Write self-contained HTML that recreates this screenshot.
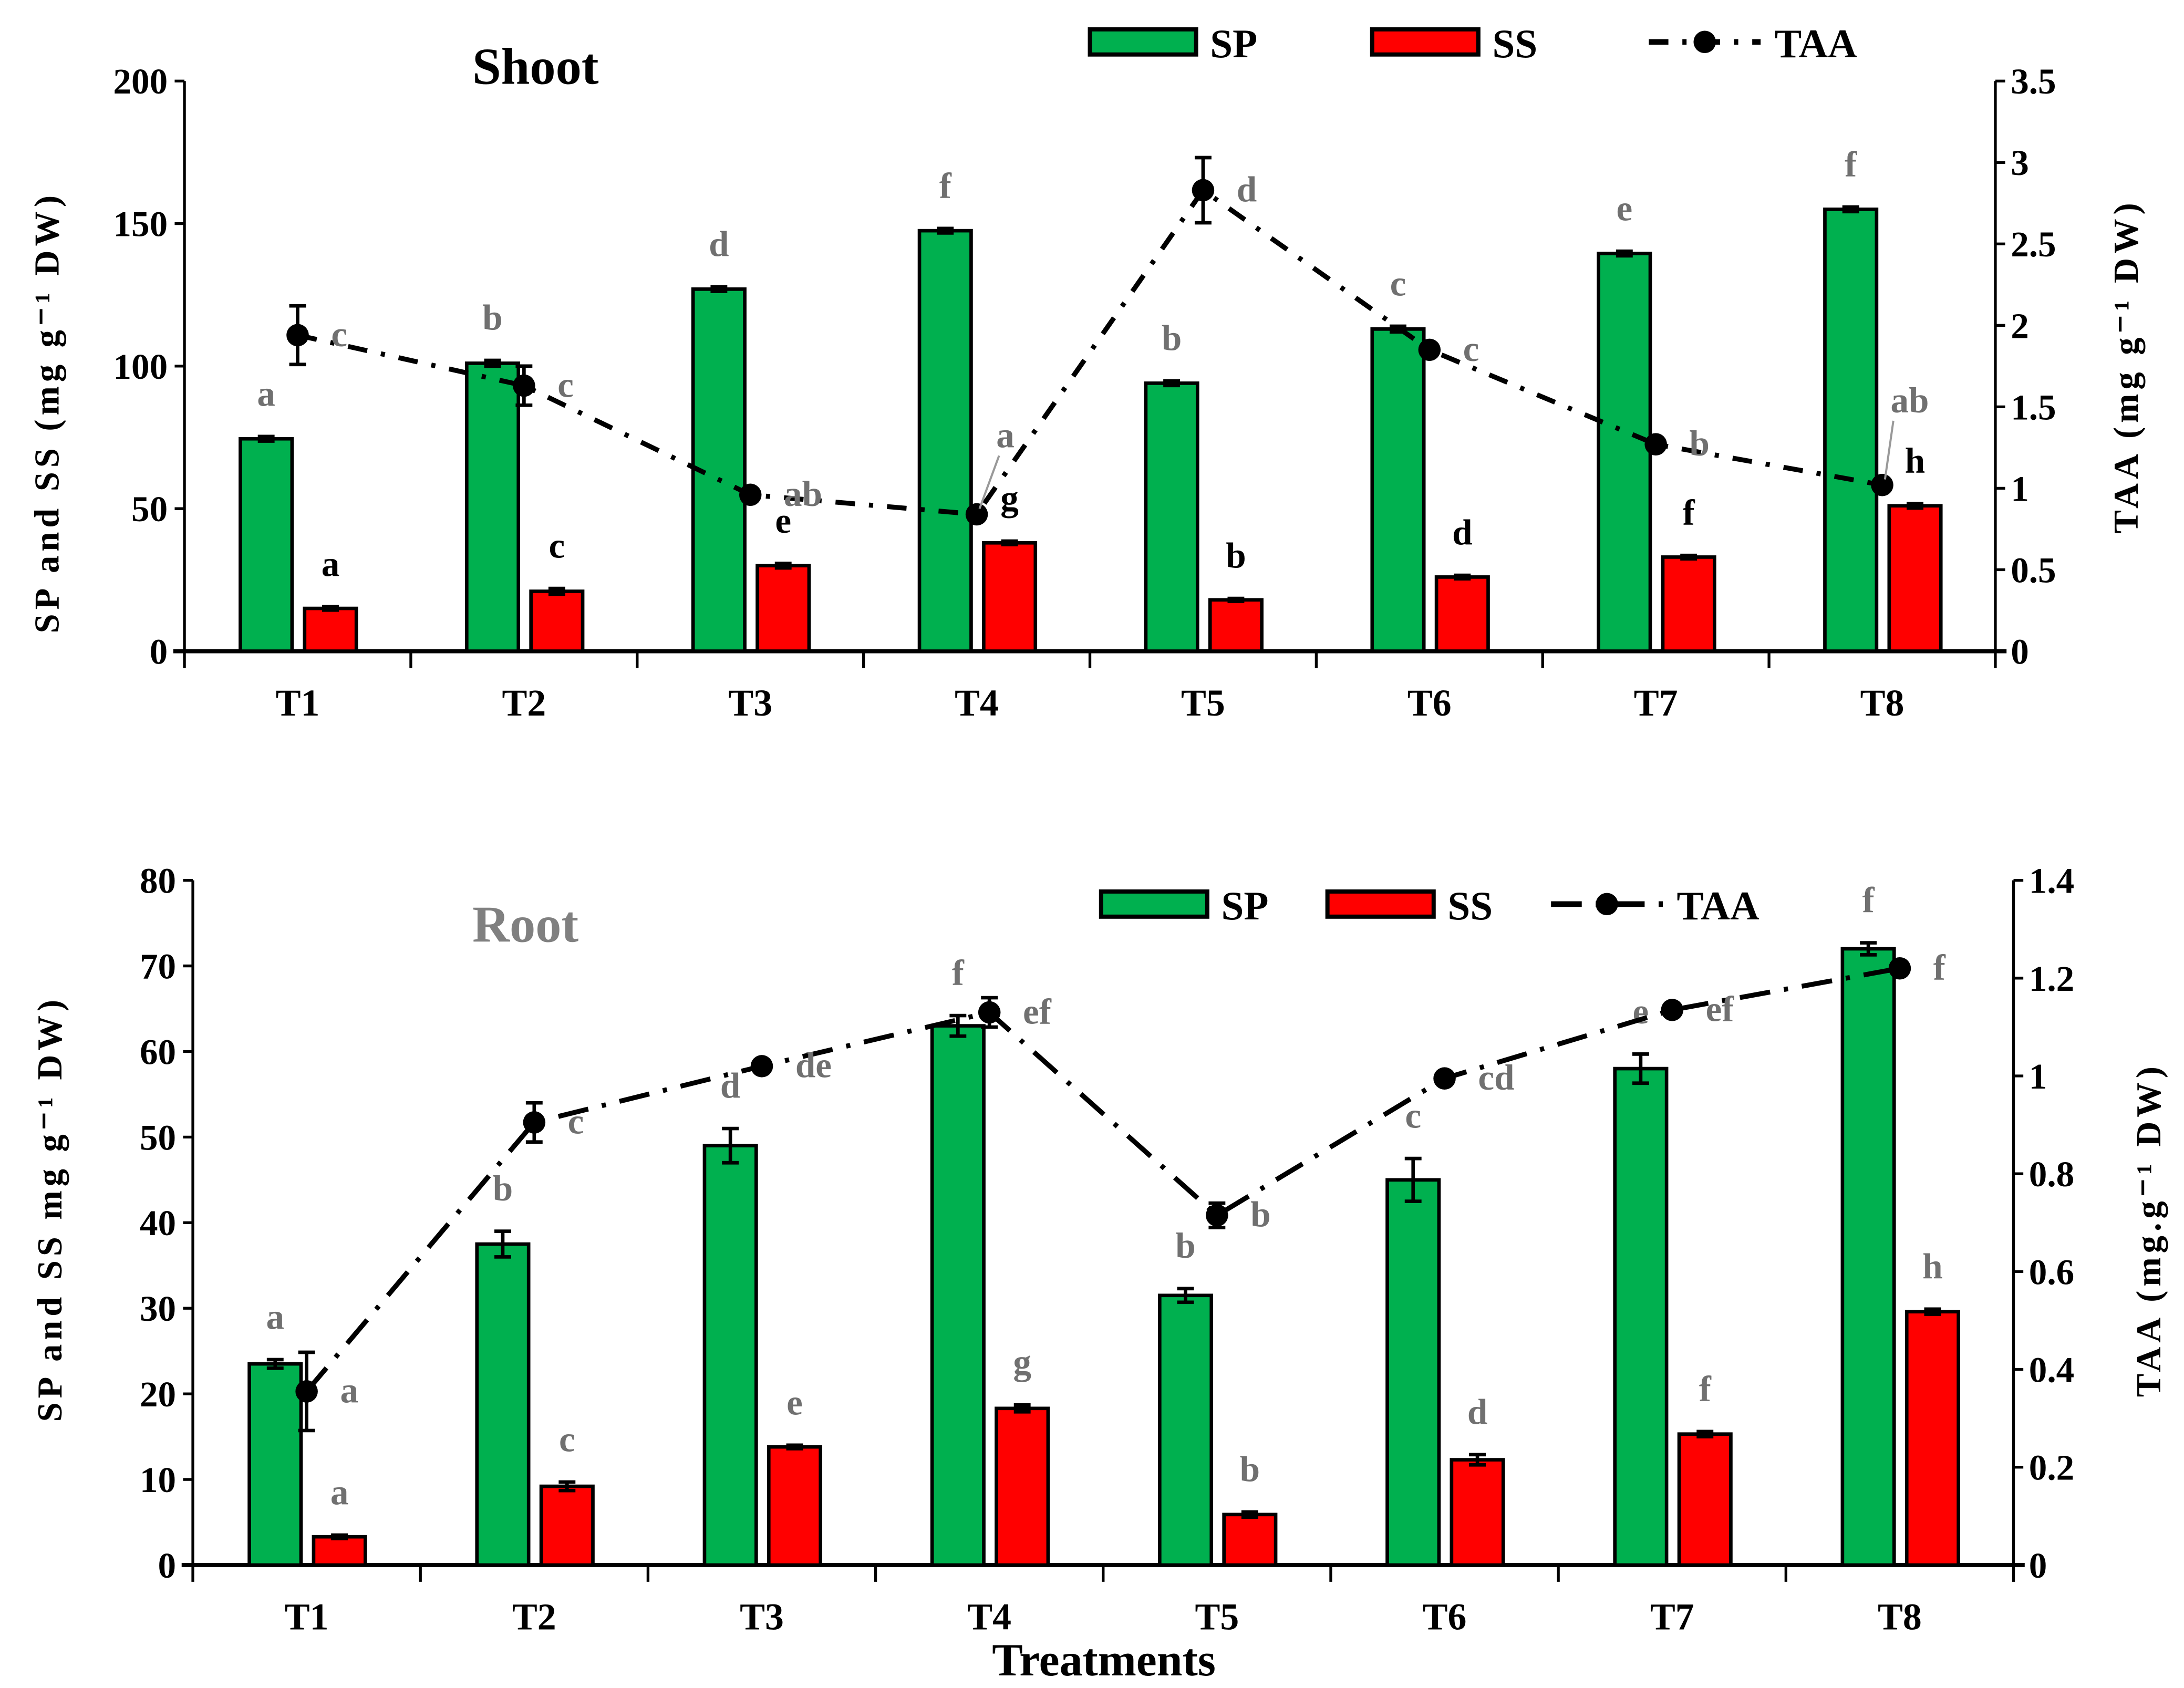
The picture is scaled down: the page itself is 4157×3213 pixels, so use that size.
<!DOCTYPE html>
<html><head><meta charset="utf-8"><style>
html,body{margin:0;padding:0;background:#fff}
svg{display:block}
text{font-family:"Liberation Serif",serif;font-weight:bold}
</style></head><body>
<svg id="chart" width="4157" height="3213" viewBox="0 0 1563 1208" preserveAspectRatio="none" xmlns="http://www.w3.org/2000/svg"></svg>
<script>
const categories=["T1","T2","T3","T4","T5","T6","T7","T8"];
const shootSP=[74.5,101,127,147.5,94,113,139.5,155];
const shootSPErr=[0.8,1,0.8,0.8,0.8,1,0.8,0.8];
const shootSS=[15,21,30,38,18,26,33,51];
const shootSSErr=[0.6,1,0.8,0.6,0.5,0.6,0.6,0.8];
const shootTAA=[1.94,1.63,0.96,0.84,2.83,1.85,1.27,1.02];
const shootTAAErr=[0.18,0.12,0.02,0.02,0.2,0.02,0.02,0.02];
const shootSPLet=["a","b","d","f","b","c","e","f"];
const shootSSLet=["a","c","e","g","b","d","f","h"];
const shootTAALet=["c","c","ab","a","d","c","b","ab"];
const shootLeftTicks=[0,50,100,150,200];
const shootRightTicks=["0","0.5","1","1.5","2","2.5","3","3.5"];
const rootSP=[23.5,37.5,49,63,31.5,45,58,72];
const rootSPErr=[0.5,1.5,2,1.2,0.8,2.5,1.7,0.7];
const rootSS=[3.3,9.2,13.8,18.3,5.9,12.3,15.3,29.6];
const rootSSErr=[0.2,0.5,0.2,0.4,0.3,0.6,0.3,0.3];
const rootTAA=[0.355,0.905,1.02,1.13,0.715,0.995,1.135,1.22];
const rootTAAErr=[0.08,0.04,0.01,0.03,0.025,0.01,0.01,0.01];
const rootSPLet=["a","b","d","f","b","c","e","f"];
const rootSSLet=["a","c","e","g","b","d","f","h"];
const rootTAALet=["a","c","de","ef","b","cd","ef","f"];
const rootLeftTicks=[0,10,20,30,40,50,60,70,80];
const rootRightTicks=["0","0.2","0.4","0.6","0.8","1","1.2","1.4"];

const svg=document.getElementById('chart');
const NS="http://www.w3.org/2000/svg";
function el(tag,attrs,parent){const e=document.createElementNS(NS,tag);for(const k in attrs)e.setAttribute(k,attrs[k]);(parent||svg).appendChild(e);return e;}
function txt(s,attrs,parent){const e=el('text',attrs,parent);e.textContent=s;return e;}

function panel(cfg){
  const g=el('g',{});
  
  
  const L=cfg.x0,R=cfg.x1,T=cfg.yTop,B=cfg.yBot;
  const cw=(R-L)/categories.length;
  const yL=v=>B-(v/cfg.lmax)*(B-T);
  const yR=v=>B-(v/cfg.rmax)*(B-T);
  const xc=i=>L+cw*(i+0.5);
  const ax=el('g',{},g);
  
  el('line',{x1:L,y1:T,x2:L,y2:B+12,stroke:'#000','stroke-width':2},ax);
  el('line',{x1:R,y1:T,x2:R,y2:B+12,stroke:'#000','stroke-width':2},ax);
  el('line',{x1:L-8,y1:B,x2:R+8,y2:B,stroke:'#000','stroke-width':3},ax);
  for(let i=1;i<categories.length;i++) el('line',{x1:L+cw*i,y1:B,x2:L+cw*i,y2:B+12,stroke:'#000','stroke-width':2},ax);
  cfg.lticks.forEach(v=>{const y=yL(v);el('line',{x1:L-7,y1:y,x2:L,y2:y,stroke:'#000','stroke-width':2},ax);
    const t=txt(String(v),{x:L-12,y:y+9,'text-anchor':'end','font-size':26},ax);});
  cfg.rticks.forEach((s,i)=>{const y=yR(i*cfg.rstep);el('line',{x1:R,y1:y,x2:R+7,y2:y,stroke:'#000','stroke-width':2},ax);
    const t=txt(s,{x:R+11,y:y+9,'font-size':26},ax);});
  categories.forEach((c,i)=>{const t=txt(c,{x:xc(i),y:B+46,'text-anchor':'middle','font-size':27},ax);});
  categories.forEach((c,i)=>{
    const x=xc(i);
    [[cfg.sp,cfg.spErr,'#00b04f',-41,cfg.spLet,'#707070','sp'],[cfg.ss,cfg.ssErr,'#ff0000',5,cfg.ssLet,cfg.ssLetCol,'ss']].forEach(([vals,errs,col,off,lets,lc,nm])=>{
      const v=vals[i],y=yL(v);
      const b=el('rect',{x:x+off,y:y,width:37,height:B-y,fill:col,stroke:'#000','stroke-width':2.5},g);
      
      const e1=yL(v+errs[i]),e2=yL(v-errs[i]),cx=x+off+18.5;
      el('line',{x1:cx,y1:e1,x2:cx,y2:e2,stroke:'#000','stroke-width':2.5},g);
      el('line',{x1:cx-6,y1:e1,x2:cx+6,y2:e1,stroke:'#000','stroke-width':2.5},g);
      el('line',{x1:cx-6,y1:e2,x2:cx+6,y2:e2,stroke:'#000','stroke-width':2.5},g);
      const t=txt(lets[i],{x:cx,y:e1-22,'text-anchor':'middle','font-size':26,fill:lc},g);
      
    });
  });
  const pts=cfg.taa.map((v,i)=>[xc(i),yR(v)]);
  const ln=el('polyline',{points:pts.map(p=>p.join(',')).join(' '),fill:'none',stroke:'#000','stroke-width':3.5,'stroke-dasharray':cfg.dash},g);
  
  cfg.taa.forEach((v,i)=>{
    const x=xc(i),y=yR(v),e1=yR(v+cfg.taaErr[i]),e2=yR(v-cfg.taaErr[i]);
    el('line',{x1:x,y1:e1,x2:x,y2:e2,stroke:'#000','stroke-width':2.5},g);
    el('line',{x1:x-6,y1:e1,x2:x+6,y2:e1,stroke:'#000','stroke-width':2.5},g);
    el('line',{x1:x-6,y1:e2,x2:x+6,y2:e2,stroke:'#000','stroke-width':2.5},g);
    const d=el('circle',{cx:x,cy:y,r:8,fill:'#000'},g);
    
    const o=(cfg.letOff&&cfg.letOff[i])||[24,8];
    if(cfg.letOff&&cfg.letOff[i]) el('line',{x1:x+2,y1:y-4,x2:x+o[0]+2,y2:y+o[1]+6,stroke:'#999','stroke-width':1.5},g);
    const t=txt(cfg.taaLet[i],{x:x+o[0],y:y+o[1],'font-size':26,fill:'#707070'},g);
    
  });
  const tt=txt(cfg.title,{x:338,y:cfg.titleY,'font-size':37,fill:cfg.titleCol},g);
  
  const lt=txt(cfg.ltitle,{x:0,y:0,'text-anchor':'middle','font-size':25,'letter-spacing':3,transform:`translate(${cfg.ltx},${cfg.lty}) rotate(-90)`},g);
  
  const rt=txt(cfg.rtitle,{x:0,y:0,'text-anchor':'middle','font-size':25,'letter-spacing':3,transform:`translate(${cfg.rtx},${cfg.rty}) rotate(-90)`},g);
  
  const lg=el('g',{},g);
  const ly=cfg.legY;
  el('rect',{x:cfg.legX[0],y:ly-9,width:76,height:18,fill:'#00b04f',stroke:'#000','stroke-width':3},lg);
  txt('SP',{x:cfg.legX[0]+86,y:ly+11,'font-size':29},lg);
  el('rect',{x:cfg.legX[1],y:ly-9,width:76,height:18,fill:'#ff0000',stroke:'#000','stroke-width':3},lg);
  txt('SS',{x:cfg.legX[1]+86,y:ly+11,'font-size':29},lg);
  el('line',{x1:cfg.legX[2],y1:ly,x2:cfg.legX[2]+80,y2:ly,stroke:'#000','stroke-width':4,'stroke-dasharray':cfg.dash},lg);
  el('circle',{cx:cfg.legX[2]+40,cy:ly,r:8,fill:'#000'},lg);
  txt('TAA',{x:cfg.legX[2]+90,y:ly+11,'font-size':29},lg);
}
panel({name:'shoot-panel',x0:132,x1:1428,yTop:58,yBot:466,lmax:200,rmax:3.5,rstep:0.5,
  sp:shootSP,spErr:shootSPErr,ss:shootSS,ssErr:shootSSErr,taa:shootTAA,taaErr:shootTAAErr,
  spLet:shootSPLet,ssLet:shootSSLet,taaLet:shootTAALet,ssLetCol:'#000',lticks:shootLeftTicks,rticks:shootRightTicks,
  dash:'14 10 3 10',title:'Shoot',titleY:60,titleCol:'#000',ltitle:'SP and SS  (mg g\u207B\u00B9 DW)',ltx:42,lty:295,
  rtitle:'TAA (mg g\u207B\u00B9 DW)',rtx:1530,rty:262,legY:30,legX:[780,982,1180],
  letOff:[null,null,null,[14,-48],null,null,null,[6,-52]]});
panel({name:'root-panel',x0:138,x1:1441,yTop:630,yBot:1120,lmax:80,rmax:1.4,rstep:0.2,
  sp:rootSP,spErr:rootSPErr,ss:rootSS,ssErr:rootSSErr,taa:rootTAA,taaErr:rootTAAErr,
  spLet:rootSPLet,ssLet:rootSSLet,taaLet:rootTAALet,ssLetCol:'#707070',lticks:rootLeftTicks,rticks:rootRightTicks,
  dash:'22 10 3 10',title:'Root',titleY:674,titleCol:'#808080',ltitle:'SP and SS  mg g\u207B\u00B9 DW)',ltx:44,lty:865,
  rtitle:'TAA (mg.g\u207B\u00B9 DW)',rtx:1546,rty:880,legY:647,legX:[788,950,1110]});
const xt=txt('Treatments',{x:790,y:1199,'text-anchor':'middle','font-size':33});


</script>
</body></html>
